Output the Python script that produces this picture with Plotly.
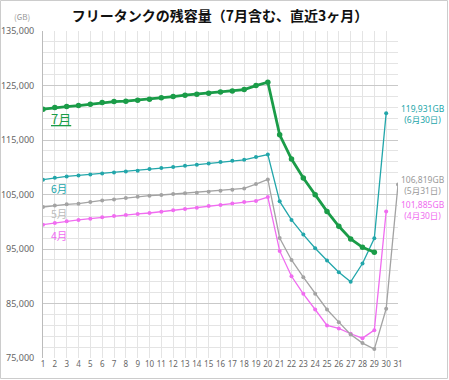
import plotly.graph_objects as go

days = list(range(1, 32))

jul_vals = [120660, 120960, 121140, 121320, 121570, 121870, 122050, 122120, 122300, 122490,
            122730, 122970, 123220, 123400, 123590, 123830, 124010, 124250, 124980, 125600,
            115950, 111500, 108020, 104960, 101900, 99160, 96850, 95310, 94400]
jun_vals = [107710, 108080, 108320, 108500, 108680, 108870, 109050, 109230, 109360, 109670,
            109850, 110040, 110270, 110460, 110700, 110950, 111190, 111370, 111860, 112340,
            103740, 100330, 97640, 95130, 92880, 90730, 88970, 92330, 96960, 119931]
may_vals = [102710, 103000, 103190, 103310, 103630, 103920, 104100, 104360, 104600, 104780,
            104910, 105090, 105210, 105330, 105510, 105700, 105880, 106120, 106920, 107770,
            97030, 92990, 89820, 86780, 83900, 81580, 79320, 77730, 76630, 84030, 106819]
apr_vals = [99470, 99780, 100070, 100330, 100570, 100810, 101060, 101240, 101430, 101610,
            101850, 102090, 102340, 102580, 102890, 103070, 103370, 103620, 103820, 104540,
            94650, 90000, 86780, 83900, 80970, 80420, 79450, 78640, 80110, 101885]

series_names = ["4月", "5月", "6月", "7月"]
y_ticks = [75000, 85000, 95000, 105000, 115000, 125000, 135000]

C_JUL = "#1a9c48"
C_JUN = "#22a6aa"
C_MAY = "#a3a3a3"
C_APR = "#f06cf0"

FONT = "Noto Sans, Noto Sans CJK JP"
CJK = "Noto Sans CJK JP"

W, H = 449, 380
L, R, T, B = 43, 51, 31, 22
PW, PH = W - L - R, H - T - B


def px(x):
    return (x - L) / PW


def py(y):
    return (H - B - y) / PH


fig = go.Figure()


def add(vals, name, color, width, msize):
    fig.add_trace(go.Scatter(
        x=days[:len(vals)], y=vals, name=name, mode="lines+markers",
        line=dict(color=color, width=width),
        marker=dict(color=color, size=msize),
        showlegend=False, hoverinfo="x+y"))


add(apr_vals, series_names[0], C_APR, 1.3, 4)
add(may_vals, series_names[1], C_MAY, 1.3, 4)
add(jun_vals, series_names[2], C_JUN, 1.3, 4)
add(jul_vals, series_names[3], C_JUL, 2.8, 5.5)


def lab(text, x, y, color, size, anchor="left"):
    fig.add_annotation(x=px(x), y=py(y), xref="paper", yref="paper", text=text,
                       showarrow=False, xanchor=anchor, yanchor="middle",
                       font=dict(color=color, size=size, family=CJK))


# series labels on the left
lab("<u>7月</u>", 49, 119, C_JUL, 13)
lab("6月", 49, 188, C_JUN, 10.5)
lab("5月", 49, 213, "#bbbbbb", 10.5)
lab("4月", 49, 235, C_APR, 10.5)


# end-value labels on the right
def end_label(val, date, color, y):
    fig.add_annotation(x=px(423), y=py(y), xref="paper", yref="paper",
                       text=f"{val:,}GB<br>({date})", showarrow=False,
                       xanchor="center", yanchor="middle", align="center",
                       font=dict(color=color, size=8.5, family=FONT))


end_label(jun_vals[-1], "6月30日", C_JUN, 114)
end_label(may_vals[-1], "5月31日", "#999999", 185)
end_label(apr_vals[-1], "4月30日", C_APR, 210)

lab("(GB)", 22, 17, "#999999", 8, anchor="center")

fig.update_layout(
    width=W, height=H,
    margin=dict(l=L, r=R, t=T, b=B),
    paper_bgcolor="white", plot_bgcolor="white",
    title=dict(text="<b>フリータンクの残容量（7月含む、直近3ヶ月）</b>",
               x=220 / W, xanchor="center", y=1 - 16 / H, yanchor="middle",
               font=dict(family=CJK, size=14, color="#111111")),
    xaxis=dict(range=[1, 31], tickmode="array", tickvals=days, ticktext=[str(d) for d in days],
               showgrid=True, gridcolor="#e4e4e4", gridwidth=1, zeroline=False,
               showline=False, tickfont=dict(size=8, color="#666666", family=FONT),
               ticks="", automargin=False, fixedrange=True),
    yaxis=dict(range=[75000, 135000], tickmode="array", tickvals=y_ticks,
               ticktext=[f"{v:,}" for v in y_ticks],
               showgrid=True, gridcolor="#c9c9c9", gridwidth=1.3, zeroline=False,
               showline=True, linecolor="#bbbbbb", linewidth=1,
               tickfont=dict(size=9, color="#666666", family=FONT),
               ticklabelstandoff=6,
               minor=dict(tickmode="linear", tick0=75000, dtick=2000, showgrid=True,
                          gridcolor="#e4e4e4", gridwidth=1),
               ticks="", automargin=False, fixedrange=True),
)

# outer frame
fig.add_shape(type="rect", xref="paper", yref="paper",
              x0=px(0.5), x1=px(W - 1.5), y0=py(H - 1.5), y1=py(0.5),
              line=dict(color="#cccccc", width=1), fillcolor="rgba(0,0,0,0)", layer="below")

fig.write_html("out.html", config={"displayModeBar": False},
               post_script="document.body.style.margin='0';document.body.style.overflow='hidden';")
